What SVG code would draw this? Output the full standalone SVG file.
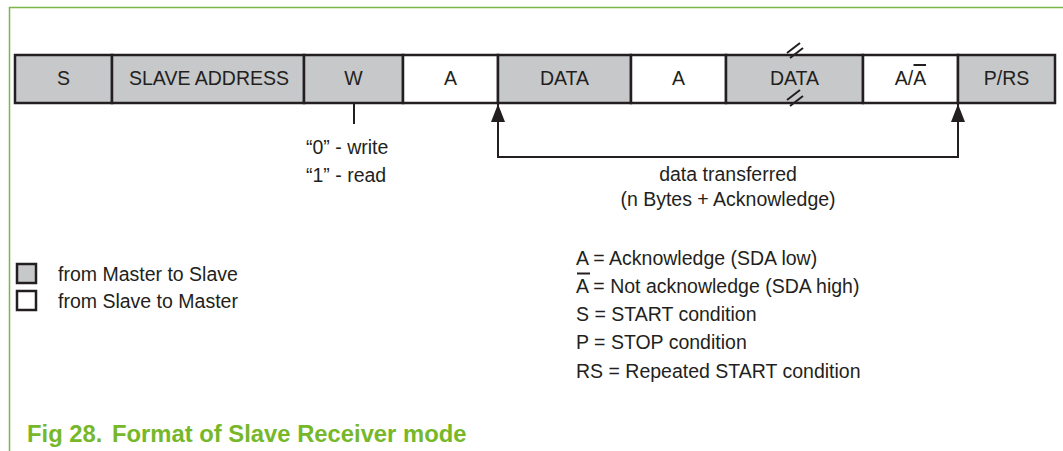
<svg xmlns="http://www.w3.org/2000/svg" width="1063" height="451" viewBox="0 0 1063 451">
  <style>
    .box { stroke: #231f20; stroke-width: 2.5; }
    .m { fill: #c7c8ca; }
    .s { fill: #ffffff; }
    .t { font-family: "Liberation Sans", Arial, sans-serif; font-size: 19.5px; fill: #231f20; }
    .c { text-anchor: middle; }
    .ln { stroke: #231f20; stroke-width: 2; fill: none; }
    .frame { stroke: #7ab648; stroke-width: 1.5; fill: none; }
    .title { font-family: "Liberation Sans", Arial, sans-serif; font-size: 23.8px; font-weight: bold; fill: #76b82a; }
  </style>
  <defs>
    <marker id="arr" viewBox="0 0 18 14" refX="18" refY="7" markerWidth="18" markerHeight="14" markerUnits="userSpaceOnUse" orient="auto">
      <path d="M0,0 L18,7 L0,14 Z" fill="#231f20"/>
    </marker>
  </defs>
  <rect width="1063" height="451" fill="#ffffff"/>
  <path class="frame" d="M9.5,451 V7.5 H1063"/>

  <g id="node-S"><rect class="box m" x="15" y="55" width="97" height="48"/><text class="t c" x="63.5" y="85">S</text></g>
  <g id="node-SLAVE-ADDRESS"><rect class="box m" x="112" y="55" width="192" height="48"/><text class="t c" x="209" y="85">SLAVE ADDRESS</text></g>
  <g id="node-W"><rect class="box m" x="304" y="55" width="99" height="48"/><text class="t c" x="353.5" y="85">W</text></g>
  <g id="node-A1"><rect class="box s" x="403" y="55" width="95" height="48"/><text class="t c" x="450.5" y="85">A</text></g>
  <g id="node-DATA1"><rect class="box m" x="498" y="55" width="133" height="48"/><text class="t c" x="564.5" y="85">DATA</text></g>
  <g id="node-A2"><rect class="box s" x="631" y="55" width="95" height="48"/><text class="t c" x="678.5" y="85">A</text></g>
  <g id="node-DATA2"><rect class="box m" x="726" y="55" width="137" height="48"/><text class="t c" x="794.5" y="85">DATA</text>
    <path class="ln" d="M787,53 L800,43 M790,58 L803,48 M787,100 L800,90 M790,106 L803,96"/>
  </g>
  <g id="node-AnotA"><rect class="box s" x="863" y="55" width="95" height="48"/><text class="t c" x="910.5" y="85">A/A</text>
    <line x1="913.5" y1="65" x2="926" y2="65" stroke="#231f20" stroke-width="2"/>
  </g>
  <g id="node-P-RS"><rect class="box m" x="958" y="55" width="97" height="48"/><text class="t c" x="1006.5" y="85">P/RS</text></g>

  <g id="connectors">
    <line class="ln" x1="354" y1="104" x2="354" y2="124"/>
    <path class="ln" d="M498,157 H958"/>
    <line class="ln" x1="498" y1="158" x2="498" y2="104" marker-end="url(#arr)"/>
    <line class="ln" x1="958" y1="158" x2="958" y2="104" marker-end="url(#arr)"/>
  </g>

  <g id="labels">
    <text class="t" x="306" y="154">“0” - write</text>
    <text class="t" x="306" y="182">“1” - read</text>
    <text class="t c" x="728" y="181">data transferred</text>
    <text class="t c" x="728" y="206">(n Bytes + Acknowledge)</text>
  </g>

  <g id="legend-left">
    <rect class="box m" x="17" y="264" width="19" height="19" stroke-width="2.2"/>
    <rect class="box s" x="17" y="291" width="19" height="19" stroke-width="2.2"/>
    <text class="t" x="58" y="281">from Master to Slave</text>
    <text class="t" x="58" y="308">from Slave to Master</text>
  </g>

  <g id="legend-right">
    <text class="t" x="576" y="265">A = Acknowledge (SDA low)</text>
    <line x1="577" y1="273.5" x2="590" y2="273.5" stroke="#231f20" stroke-width="2"/>
    <text class="t" x="576" y="293">A = Not acknowledge (SDA high)</text>
    <text class="t" x="576" y="321">S = START condition</text>
    <text class="t" x="576" y="349">P = STOP condition</text>
    <text class="t" x="576" y="378">RS = Repeated START condition</text>
  </g>

  <g id="caption">
    <text class="title" x="27" y="442">Fig 28.</text>
    <text class="title" x="112" y="442">Format of Slave Receiver mode</text>
  </g>
</svg>
